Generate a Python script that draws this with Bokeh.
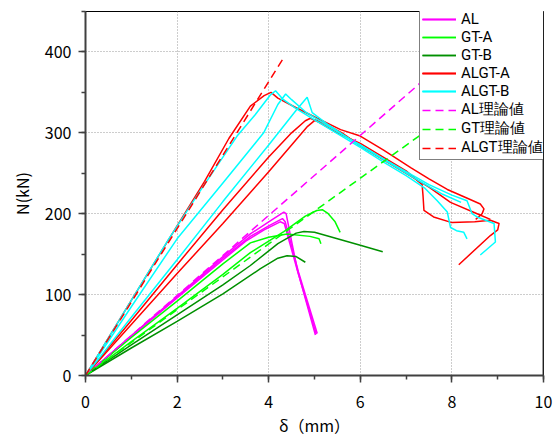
from bokeh.plotting import figure
from bokeh.models import Legend, LegendItem, SingleIntervalTicker, Span
from bokeh.embed import file_html
from bokeh.resources import INLINE

# ---- data (delta in mm, N in kN) ----
al1_x = [0, 1.0, 2.0, 3.0, 3.6, 4.0, 4.33, 4.38, 4.62, 5.02]
al1_y = [0, 49, 98, 147, 175, 190, 202, 200, 132, 50]
al2_x = [0, 1.0, 2.0, 3.0, 3.6, 4.0, 4.3, 4.36, 4.65, 5.06]
al2_y = [0, 49, 97, 145, 172, 185, 194, 190, 128, 52]
al3_x = [0, 1.0, 2.0, 3.0, 3.5, 3.9, 4.25, 4.34, 4.64, 5.04]
al3_y = [0, 48, 96, 143, 166, 180, 190, 188, 127, 51]

gta1_x = [0, 1.0, 2.0, 3.0, 3.6, 4.0, 4.4, 4.9, 5.1, 5.14]
gta1_y = [0, 47, 92, 138, 164, 171, 175, 172, 169, 163]
gta2_x = [0, 1.0, 2.0, 3.0, 3.6, 4.33, 4.8, 5.05, 5.17, 5.3, 5.45, 5.56]
gta2_y = [0, 42, 83, 125, 152, 178, 197, 204, 205, 200, 190, 177]

gtb1_x = [0, 1.0, 2.0, 3.0, 3.6, 4.2, 4.6, 4.77, 5.0, 5.5, 6.0, 6.49]
gtb1_y = [0, 38, 75, 112, 136, 163, 176, 178, 177, 169, 161, 153]
gtb2_x = [0, 1.0, 2.0, 3.0, 3.82, 4.2, 4.4, 4.6, 4.8]
gtb2_y = [0, 34, 67, 101, 132, 145, 148, 147, 140]

r1_x = [0, 1.0, 2.0, 2.6, 3.13, 3.6, 3.9, 4.05, 4.2, 4.6, 5.06, 5.57, 6.0, 6.5,
        7.1, 7.5, 7.9, 8.3, 8.62, 8.7, 8.66, 8.52]
r1_y = [0, 93, 185, 240, 293, 333, 346, 350, 343, 331, 318, 304, 296, 279,
        257, 243, 230, 220, 212, 206, 200, 193]
r2_x = [0, 1.0, 2.0, 3.0, 4.0, 4.5, 4.8, 4.91, 5.1, 5.5, 6.0, 6.5, 7.0, 7.35,
        7.37, 7.39, 7.6, 8.0, 8.5, 8.84, 9.03, 9.0, 8.84, 8.15]
r2_y = [0, 68, 137, 205, 270, 300, 315, 318, 313, 300, 287, 270, 253, 236,
        222, 204, 196, 189, 190, 192, 188, 180, 173, 137]
r3_x = [0, 1.0, 2.0, 3.0, 4.0, 4.5, 4.85, 5.02, 5.2, 5.6, 6.0, 6.5, 7.0, 7.5,
        7.97, 8.55, 8.84]
r3_y = [0, 63, 126, 188, 252, 285, 308, 316, 312, 300, 284, 267, 250, 233,
        214, 200, 193]

c1_x = [0, 1.0, 1.82, 2.5, 3.31, 3.7, 4.04, 4.15, 4.3, 4.6, 5.0, 5.5, 6.0, 6.5,
        7.0, 7.4, 7.68, 7.9, 7.97, 8.1, 8.26, 8.33]
c1_y = [0, 93, 169, 228, 296, 322, 347, 352, 342, 330, 316, 299, 282, 264,
        247, 232, 216, 202, 183, 179, 177, 169]
c2_x = [0, 1.0, 2.0, 3.0, 3.89, 4.2, 4.37, 4.5, 4.8, 5.2, 5.6, 6.0, 6.5, 7.0,
        7.5, 8.0, 8.33, 8.44, 8.55, 8.92, 8.95, 8.62]
c2_y = [0, 85, 169, 238, 300, 335, 348, 341, 326, 312, 298, 285, 268, 252,
        236, 223, 216, 200, 196, 188, 165, 149]
c3_x = [0, 1.0, 2.0, 3.0, 4.0, 4.6, 4.84, 4.95, 5.3, 5.8, 6.3, 6.8, 7.3, 7.8, 8.2]
c3_y = [0, 72, 143, 215, 285, 328, 344, 325, 310, 291, 274, 257, 240, 224, 214]

al_th_x = [0, 7.6]
al_th_y = [0, 376]
gt_th_x = [0, 7.6]
gt_th_y = [0, 309]
algt_th_x = [0, 4.35]
algt_th_y = [0, 395]

labels = ["AL", "GT-A", "GT-B", "ALGT-A", "ALGT-B", "AL理論値", "GT理論値", "ALGT理論値"]
x_ticks_interval = 2
y_ticks_interval = 100

# ---- figure ----
FONT = "Noto Sans CJK JP"
p = figure(width=554, height=439, x_range=(0, 10), y_range=(0, 450),
           output_backend="svg", toolbar_location=None,
           min_border_left=85, min_border_right=11, min_border_top=11,
           min_border_bottom=61)
p.background_fill_color = "white"
p.outline_line_color = "black"
p.outline_line_width = 1

p.xaxis.ticker = SingleIntervalTicker(interval=x_ticks_interval, num_minor_ticks=2)
p.yaxis.ticker = SingleIntervalTicker(interval=y_ticks_interval, num_minor_ticks=2)
p.xgrid.ticker = SingleIntervalTicker(interval=x_ticks_interval)
p.ygrid.ticker = SingleIntervalTicker(interval=y_ticks_interval)
for g in (p.xgrid, p.ygrid):
    g.grid_line_color = "#9a9a9a"
    g.grid_line_dash = "1 2"
    g.grid_line_width = 1

for ax in (p.xaxis, p.yaxis):
    ax.axis_line_color = "#404040"
    ax.axis_line_width = 2
    ax.major_tick_line_color = "#404040"
    ax.minor_tick_line_color = "#404040"
    ax.major_tick_out = 7
    ax.major_tick_in = 0
    ax.minor_tick_out = 4
    ax.minor_tick_in = 0
    ax.major_tick_line_width = 1.5
    ax.minor_tick_line_width = 1.5
    ax.major_label_text_font = FONT
    ax.major_label_text_font_size = "16px"
    ax.major_label_text_color = "black"
    ax.axis_label_text_font = FONT
    ax.axis_label_text_font_size = "16px"
    ax.axis_label_text_font_style = "normal"
    ax.axis_label_text_color = "black"

p.xaxis.axis_label = "δ（mm）"
p.yaxis.axis_label = "N(kN)"
p.xaxis.major_label_standoff = 13
p.yaxis.major_label_standoff = 7
p.xaxis.axis_label_standoff = 2
p.yaxis.axis_label_standoff = 8

p.add_layout(Span(location=10, dimension="height", line_color="#404040", line_width=2))

W = 1.5
MAG, LIME, DKG, RED, CYA = "#ff00ff", "#00ff00", "#009000", "#ff0000", "#00ffff"

al_r = [p.line(x, y, line_color=MAG, line_width=W) for x, y in
        ((al1_x, al1_y), (al2_x, al2_y), (al3_x, al3_y))]
gta_r = [p.line(x, y, line_color=LIME, line_width=W) for x, y in
         ((gta1_x, gta1_y), (gta2_x, gta2_y))]
gtb_r = [p.line(x, y, line_color=DKG, line_width=W) for x, y in
         ((gtb1_x, gtb1_y), (gtb2_x, gtb2_y))]
r_r = [p.line(x, y, line_color=RED, line_width=W) for x, y in
       ((r1_x, r1_y), (r2_x, r2_y), (r3_x, r3_y))]
c_r = [p.line(x, y, line_color=CYA, line_width=W) for x, y in
       ((c1_x, c1_y), (c2_x, c2_y), (c3_x, c3_y))]
alt = p.line(al_th_x, al_th_y, line_color=MAG, line_width=W, line_dash="8 5")
gtt = p.line(gt_th_x, gt_th_y, line_color=LIME, line_width=W, line_dash="8 5")
algtt = p.line(algt_th_x, algt_th_y, line_color=RED, line_width=W, line_dash="8 5")

items = [
    LegendItem(label=labels[0], renderers=al_r),
    LegendItem(label=labels[1], renderers=gta_r),
    LegendItem(label=labels[2], renderers=gtb_r),
    LegendItem(label=labels[3], renderers=r_r),
    LegendItem(label=labels[4], renderers=c_r),
    LegendItem(label=labels[5], renderers=[alt]),
    LegendItem(label=labels[6], renderers=[gtt]),
    LegendItem(label=labels[7], renderers=[algtt]),
]
legend = Legend(items=items, location=(334, 215), orientation="vertical",
                margin=0, padding=2, spacing=0,
                glyph_width=34, glyph_height=18, label_height=18,
                label_standoff=5, label_width=85,
                label_text_font="Roboto", label_text_font_size="15px",
                label_text_color="black",
                border_line_color="black", border_line_width=1,
                background_fill_color="white", background_fill_alpha=1.0)
p.add_layout(legend, "center")

open("out.html", "w").write(file_html(p, INLINE))
